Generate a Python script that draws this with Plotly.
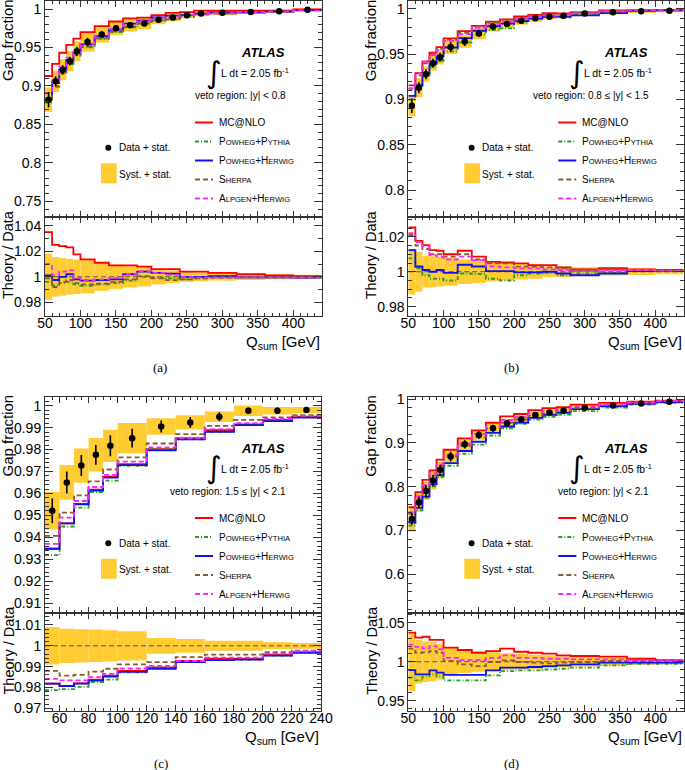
import plotly.graph_objects as go

# ---------------- data ----------------
edges_wide = [50, 60, 70, 80, 90, 100, 120, 140, 160, 180, 200, 220, 240, 260, 280, 320, 360, 400, 440]
edges_c = [50, 60, 70, 80, 90, 100, 120, 140, 160, 180, 200, 220, 240]

# (a) veto region |y| < 0.8
gap_a = [0.882, 0.906, 0.921, 0.932, 0.945, 0.957, 0.967, 0.975, 0.979, 0.981, 0.986, 0.989, 0.992, 0.994, 0.995, 0.996, 0.997, 0.999]
stat_a = [0.010, 0.0065, 0.006, 0.0056, 0.006, 0.0055, 0.004, 0.0037, 0.0035, 0.003, 0.0025, 0.0022, 0.002, 0.0018, 0.0015, 0.0013, 0.0012, 0.001]
tot_rel_a = [0.018, 0.0155, 0.0148, 0.014, 0.0135, 0.013, 0.011, 0.0095, 0.0083, 0.0075, 0.006, 0.005, 0.004, 0.0035, 0.003, 0.0025, 0.002, 0.0015]
mcnlo_a = [1.035, 1.025, 1.024, 1.023, 1.0175, 1.0136, 1.011, 1.009, 1.009, 1.008, 1.006, 1.006, 1.004, 1.004, 1.003, 1.002, 1.001, 1.0005]
powpy_a = [0.996, 0.9935, 0.995, 0.996, 0.994, 0.993, 0.994, 0.995, 0.997, 1.0, 0.9993, 0.9987, 0.998, 0.9987, 0.9993, 0.9995, 0.9995, 0.9995]
powhw_a = [1.001, 0.9975, 1.0, 1.002, 0.998, 0.997, 0.9975, 0.998, 1.002, 1.004, 1.003, 1.0025, 1.0, 1.0, 1.0005, 0.9995, 0.9995, 0.9993]
sherpa_a = [0.9987, 0.992, 0.996, 0.9975, 0.995, 0.994, 0.9947, 0.996, 0.998, 1.0005, 0.9987, 0.9974, 0.998, 0.9987, 0.9993, 0.9995, 0.9995, 0.9995]
alpgen_a = [1.010, 1.0013, 1.004, 1.005, 0.999, 0.9975, 0.998, 0.999, 1.002, 1.0045, 1.003, 1.0015, 1.0, 0.9995, 0.9995, 0.9995, 0.9995, 0.9993]

# (b) veto region 0.8 <= |y| < 1.5
gap_b = [0.893, 0.913, 0.928, 0.940, 0.9466, 0.958, 0.964, 0.973, 0.9805, 0.9834, 0.987, 0.9897, 0.9915, 0.9926, 0.995, 0.9963, 0.9974, 0.998]
stat_b = [0.008, 0.006, 0.0055, 0.005, 0.005, 0.0055, 0.005, 0.004, 0.0035, 0.003, 0.0025, 0.0022, 0.002, 0.0018, 0.0015, 0.0013, 0.0012, 0.001]
tot_rel_b = [0.013, 0.0114, 0.009, 0.0088, 0.0085, 0.008, 0.007, 0.0065, 0.0055, 0.005, 0.0045, 0.004, 0.003, 0.003, 0.0025, 0.0022, 0.0018, 0.0015]
mcnlo_b = [1.0253, 1.0177, 1.0152, 1.0124, 1.012, 1.010, 1.012, 1.0086, 1.0057, 1.0053, 1.0048, 1.0038, 1.0038, 1.0025, 1.0013, 1.002, 1.0013, 1.001]
powpy_b = [1.0076, 1.002, 0.998, 0.996, 0.996, 0.995, 0.999, 0.9987, 0.996, 0.995, 0.998, 0.999, 0.9994, 0.998, 0.999, 0.9994, 1.0004, 1.0004]
powhw_b = [1.0124, 1.003, 1.001, 1.0, 1.001, 0.9994, 1.004, 1.003, 1.0004, 1.0004, 0.9996, 0.9996, 1.0, 0.999, 0.998, 0.999, 1.0004, 1.0004]
sherpa_b = [1.021, 1.015, 1.013, 1.010, 1.010, 1.0086, 1.010, 1.007, 1.0048, 1.0048, 1.0029, 1.0029, 1.0025, 1.0019, 1.001, 1.0013, 1.001, 1.0006]
alpgen_b = [1.022, 1.017, 1.0146, 1.0095, 1.0086, 1.007, 1.0086, 1.0067, 1.003, 1.0025, 1.0019, 1.0019, 1.0013, 1.001, 1.0004, 1.001, 1.001, 1.0006]

# (c) veto region 1.5 <= |y| < 2.1
gap_c = [0.9521, 0.965, 0.9727, 0.9776, 0.9817, 0.9852, 0.9905, 0.9924, 0.995, 0.9977, 0.9977, 0.998]
stat_c = [0.0057, 0.005, 0.0048, 0.0045, 0.0048, 0.0043, 0.0027, 0.0025, 0.002, 0.0015, 0.0015, 0.0012]
tot_rel_c = [0.009, 0.0082, 0.008, 0.0078, 0.0075, 0.007, 0.0038, 0.0033, 0.0024, 0.0024, 0.0017, 0.0014]
mcnlo_c = [0.9818, 0.9807, 0.982, 0.9838, 0.9857, 0.988, 0.9896, 0.9927, 0.9938, 0.9938, 0.9958, 0.997]
powpy_c = [0.9787, 0.9792, 0.9803, 0.9826, 0.9838, 0.9872, 0.9896, 0.9922, 0.9931, 0.9934, 0.9953, 0.9969]
powhw_c = [0.9818, 0.9807, 0.9818, 0.9833, 0.9852, 0.9875, 0.989, 0.9922, 0.9931, 0.9934, 0.9953, 0.9966]
sherpa_c = [0.988, 0.9857, 0.986, 0.9876, 0.989, 0.9911, 0.9922, 0.9946, 0.9958, 0.9958, 0.997, 0.9977]
alpgen_c = [0.9841, 0.9834, 0.9834, 0.985, 0.9865, 0.9891, 0.9904, 0.9927, 0.9943, 0.9943, 0.9963, 0.9974]

# (d) veto region |y| < 2.1
gap_d = [0.726, 0.764, 0.790, 0.814, 0.838, 0.8685, 0.8966, 0.918, 0.933, 0.9445, 0.9536, 0.9635, 0.969, 0.9734, 0.980, 0.985, 0.990, 0.994]
stat_d = [0.013, 0.013, 0.013, 0.013, 0.012, 0.011, 0.0095, 0.009, 0.008, 0.007, 0.006, 0.005, 0.0045, 0.004, 0.0035, 0.003, 0.0025, 0.002]
tot_rel_d = [0.038, 0.028, 0.026, 0.025, 0.023, 0.0175, 0.0145, 0.013, 0.012, 0.011, 0.010, 0.009, 0.008, 0.007, 0.006, 0.005, 0.004, 0.0033]
mcnlo_d = [1.0372, 1.031, 1.032, 1.028, 1.028, 1.018, 1.015, 1.0115, 1.0137, 1.0167, 1.0128, 1.0115, 1.0103, 1.008, 1.0073, 1.0064, 1.0038, 1.002]
powpy_d = [0.9795, 0.976, 0.981, 0.9838, 0.981, 0.976, 0.976, 0.976, 0.9825, 0.988, 0.9889, 0.9889, 0.990, 0.991, 0.9923, 0.9953, 0.9974, 0.9974]
powhw_d = [0.9893, 0.9838, 0.9838, 0.989, 0.986, 0.983, 0.983, 0.983, 0.989, 0.9923, 0.9923, 0.9932, 0.9944, 0.9953, 0.9966, 0.9987, 0.9987, 0.9987]
sherpa_d = [1.0167, 1.0115, 1.012, 1.0137, 1.0115, 1.001, 0.9966, 0.9944, 0.9996, 1.0017, 0.9996, 0.9987, 0.9979, 0.9987, 0.9996, 1.001, 1.001, 1.001]
alpgen_d = [1.022, 1.019, 1.0167, 1.020, 1.016, 1.005, 1.002, 1.002, 1.005, 1.008, 1.005, 1.005, 1.0038, 1.0038, 1.003, 1.003, 1.002, 1.0017]

veto_labels = ["veto region: |y| < 0.8", "veto region: 0.8 \u2264 |y| < 1.5",
               "veto region: 1.5 \u2264 |y| < 2.1", "veto region: |y| < 2.1"]
panel_tags = ["(a)", "(b)", "(c)", "(d)"]
lumi_text = "L dt = 2.05 fb<sup>-1</sup>"
RATIO_REF = 1.0

# ---------------- styling / geometry ----------------
W, H = 685, 770
FONT = "Liberation Sans, Arial, Helvetica, sans-serif"
AXC = "#333333"
BAND = "#FFCC33"

def PX(x):
    return x / W

def PY(y):
    return 1 - y / H

def sc(big, small):
    return big + "<span style='font-size:7.6px'>" + small + "</span>"

models = [
    ("MC@NLO", "#FF0000", "solid"),
    (sc("P", "OWHEG") + "+" + sc("P", "YTHIA"), "#22A022", "4px,2px,1px,2px"),
    (sc("P", "OWHEG") + "+" + sc("H", "ERWIG"), "#1010F0", "solid"),
    (sc("S", "HERPA"), "#8B5A2B", "5px,3px"),
    (sc("A", "LPGEN") + "+" + sc("H", "ERWIG"), "#FF22FF", "5px,3px"),
]

panels = [
    dict(edges=edges_wide, gap=gap_a, stat=stat_a, rel=tot_rel_a,
         ratios=[mcnlo_a, powpy_a, powhw_a, sherpa_a, alpgen_a],
         x0=45, x1=321.7, top=1, mid=217, bot=316,
         mrange=[0.7296, 1.0104], mdt=0.05, mmin=0.01,
         rrange=[0.9693, 1.0468], rdt=0.02, rmin=0.01,
         xrange=[50, 440], xdt=50, xt0=50, xmin=10, tagx=160, tagy=368),
    dict(edges=edges_wide, gap=gap_b, stat=stat_b, rel=tot_rel_b,
         ratios=[mcnlo_b, powpy_b, powhw_b, sherpa_b, alpgen_b],
         x0=408.3, x1=683.5, top=1, mid=217, bot=316,
         mrange=[0.7702, 1.0088], mdt=0.05, mmin=0.01,
         rrange=[0.9747, 1.0313], rdt=0.02, rmin=0.005,
         xrange=[50, 440], xdt=50, xt0=50, xmin=10, tagx=512, tagy=368),
    dict(edges=edges_c, gap=gap_c, stat=stat_c, rel=tot_rel_c,
         ratios=[mcnlo_c, powpy_c, powhw_c, sherpa_c, alpgen_c],
         x0=45, x1=321, top=396.5, mid=612.5, bot=711,
         mrange=[0.9057, 1.0042], mdt=0.01, mmin=0.002,
         rrange=[0.9687, 1.016], rdt=0.01, rmin=0.002,
         xrange=[50, 240.01], xdt=20, xt0=0, xmin=5, tagx=161, tagy=763),
    dict(edges=edges_wide, gap=gap_d, stat=stat_d, rel=tot_rel_d,
         ratios=[mcnlo_d, powpy_d, powhw_d, sherpa_d, alpgen_d],
         x0=408.3, x1=683.5, top=396.5, mid=612.5, bot=711,
         mrange=[0.5128, 1.0057], mdt=0.1, mmin=0.02,
         rrange=[0.9368, 1.0631], rdt=0.05, rmin=0.01,
         xrange=[50, 440], xdt=50, xt0=50, xmin=10, tagx=512, tagy=763),
]

fig = go.Figure()
layout = dict(
    width=W, height=H, margin=dict(l=0, r=0, t=0, b=0, autoexpand=False),
    paper_bgcolor="white", plot_bgcolor="white", showlegend=False,
    barmode="overlay", font=dict(family=FONT, color="black"),
)
annotations = []
shapes = []


def axis_common(dom, rng, dtick, tick0, minor_dt, ticklen, minlen, anchor, showlabels, standoff):
    return dict(
        domain=dom, range=rng, dtick=dtick, tick0=tick0, tickmode="linear",
        ticks="inside", ticklen=ticklen, tickcolor=AXC, tickwidth=1,
        minor=dict(dtick=minor_dt, ticks="inside", ticklen=minlen, tickcolor=AXC, tickwidth=1, showgrid=False),
        showline=True, linecolor=AXC, linewidth=1, mirror="allticks",
        showgrid=False, zeroline=False, anchor=anchor, showticklabels=showlabels,
        ticklabelstandoff=standoff,
        tickfont=dict(family=FONT, size=14, color="black"),
    )


for i, p in enumerate(panels):
    im, ir = 2 * i + 1, 2 * i + 2
    xm = "x" if im == 1 else "x%d" % im
    ym = "y" if im == 1 else "y%d" % im
    xr, yr = "x%d" % ir, "y%d" % ir
    kxm = "xaxis" if im == 1 else "xaxis%d" % im
    kym = "yaxis" if im == 1 else "yaxis%d" % im
    kxr, kyr = "xaxis%d" % ir, "yaxis%d" % ir
    xdom = [PX(p["x0"]), min(1.0, PX(p["x1"]))]
    layout[kxm] = axis_common(xdom, p["xrange"], p["xdt"], p["xt0"], p["xmin"], 6, 3, ym, False, 0)
    layout[kxr] = axis_common(xdom, p["xrange"], p["xdt"], p["xt0"], p["xmin"], 6, 3, yr, True, -6)
    layout[kym] = axis_common([PY(p["mid"]), PY(p["top"])], p["mrange"], p["mdt"], 0, p["mmin"], 8, 4, xm, True, 0)
    layout[kyr] = axis_common([PY(p["bot"]), PY(p["mid"])], p["rrange"], p["rdt"], 0, p["rmin"], 8, 4, xr, True, 0)

    edges = p["edges"]
    nb = len(edges) - 1
    centers = [(edges[k] + edges[k + 1]) / 2 for k in range(nb)]
    widths = [edges[k + 1] - edges[k] for k in range(nb)]
    gap = p["gap"]
    rel = p["rel"]

    # syst + stat band (main)
    lo = [g * (1 - r) for g, r in zip(gap, rel)]
    hi = [g * (1 + r) for g, r in zip(gap, rel)]
    fig.add_trace(go.Bar(x=centers, width=widths, base=lo, y=[h - l for h, l in zip(hi, lo)],
                         marker=dict(color=BAND, line=dict(width=0)), xaxis=xm, yaxis=ym,
                         hoverinfo="skip"))
    # band (ratio)
    fig.add_trace(go.Bar(x=centers, width=widths, base=[RATIO_REF - r for r in rel], y=[2 * r for r in rel],
                         marker=dict(color=BAND, line=dict(width=0)), xaxis=xr, yaxis=yr,
                         hoverinfo="skip"))
    # reference line at 1
    fig.add_trace(go.Scatter(x=[p["xrange"][0], p["xrange"][1]], y=[RATIO_REF, RATIO_REF], mode="lines",
                             line=dict(color="#555555", width=1, dash="5px,3px"), xaxis=xr, yaxis=yr,
                             hoverinfo="skip"))
    # theory curves
    for (name, col, dash), ratio in zip(models, p["ratios"]):
        theo = [g * r for g, r in zip(gap, ratio)]
        fig.add_trace(go.Scatter(x=edges, y=theo + [theo[-1]], mode="lines", line_shape="hv",
                                 line=dict(color=col, width=1.8, dash=dash), xaxis=xm, yaxis=ym, name=name))
        fig.add_trace(go.Scatter(x=edges, y=list(ratio) + [ratio[-1]], mode="lines", line_shape="hv",
                                 line=dict(color=col, width=1.8, dash=dash), xaxis=xr, yaxis=yr, name=name))
    # data
    fig.add_trace(go.Scatter(x=centers, y=gap, mode="markers",
                             marker=dict(color="black", size=6.5, symbol="circle"),
                             error_y=dict(type="data", array=p["stat"], thickness=1.6, width=0, color="black"),
                             xaxis=xm, yaxis=ym, name="Data + stat."))

    # ---------- texts ----------
    dx = p["x0"] - 45
    dy = p["top"] - 1
    annotations += [
        dict(text="<b><i>ATLAS</i></b>", x=PX(287 + dx), y=PY(53 + dy), xanchor="right", yanchor="middle",
             font=dict(size=13, family=FONT), showarrow=False, xref="paper", yref="paper"),
        dict(text="\u222b", x=PX(214 + dx), y=PY(72 + dy), xanchor="center", yanchor="middle",
             font=dict(size=30, family="DejaVu Sans"), showarrow=False, xref="paper", yref="paper"),
        dict(text=lumi_text, x=PX(219 + dx), y=PY(73 + dy), xanchor="left", yanchor="middle",
             font=dict(size=10.5, family=FONT), showarrow=False, xref="paper", yref="paper"),
        dict(text=veto_labels[i], x=PX(288 + dx), y=PY(95.5 + dy), xanchor="right", yanchor="middle",
             font=dict(size=10, family=FONT), showarrow=False, xref="paper", yref="paper"),
        dict(text="Data + stat.", x=PX(117 + dx), y=PY(147.7 + dy), xanchor="left", yanchor="middle",
             font=dict(size=10, family=FONT), showarrow=False, xref="paper", yref="paper"),
        dict(text="Syst. + stat.", x=PX(117 + dx), y=PY(174.3 + dy), xanchor="left", yanchor="middle",
             font=dict(size=10, family=FONT), showarrow=False, xref="paper", yref="paper"),
        dict(text="Gap fraction", x=PX(7 + p["x0"] - 45), y=PY(40 + dy), textangle=-90,
             xanchor="center", yanchor="middle", font=dict(size=15, family=FONT),
             showarrow=False, xref="paper", yref="paper"),
        dict(text="Theory / Data", x=PX(8 + p["x0"] - 45), y=PY(255 + dy), textangle=-90,
             xanchor="center", yanchor="middle", font=dict(size=14.5, family=FONT),
             showarrow=False, xref="paper", yref="paper"),
        dict(text="Q<sub>sum</sub> [GeV]", x=PX(p["x1"]), y=PY(p["bot"] + 26), xanchor="right",
             yanchor="middle", font=dict(size=15, family=FONT), showarrow=False, xref="paper", yref="paper"),
        dict(text=panel_tags[i], x=PX(p["tagx"]), y=PY(p["tagy"]), xanchor="center", yanchor="middle",
             font=dict(size=13, family="Liberation Serif, DejaVu Serif, serif"), showarrow=False,
             xref="paper", yref="paper"),
    ]
    rows = [122.5, 141.5, 160.5, 179.5, 198.5]
    for (name, col, dash), ry in zip(models, rows):
        shapes.append(dict(type="line", xref="paper", yref="paper", x0=PX(195 + dx), x1=PX(213 + dx),
                           y0=PY(ry + dy), y1=PY(ry + dy), line=dict(color=col, width=2, dash=dash)))
        annotations.append(dict(text=name, x=PX(217 + dx), y=PY(ry + dy), xanchor="left", yanchor="middle",
                                font=dict(size=10, family=FONT), showarrow=False, xref="paper", yref="paper"))
    shapes.append(dict(type="rect", xref="paper", yref="paper", x0=PX(101 + dx), x1=PX(116.7 + dx),
                       y0=PY(183.3 + dy), y1=PY(163.3 + dy), fillcolor=BAND, line=dict(width=0)))
    shapes.append(dict(type="circle", xref="paper", yref="paper", x0=PX(105.3 + dx), x1=PX(111.3 + dx),
                       y0=PY(150.7 + dy), y1=PY(144.7 + dy), fillcolor="black", line=dict(width=0)))

layout["annotations"] = annotations
layout["shapes"] = shapes
fig.update_layout(**layout)
fig.write_html("out.html", config={"displayModeBar": False},
               post_script="document.body.style.margin='0';document.body.style.padding='0';")
